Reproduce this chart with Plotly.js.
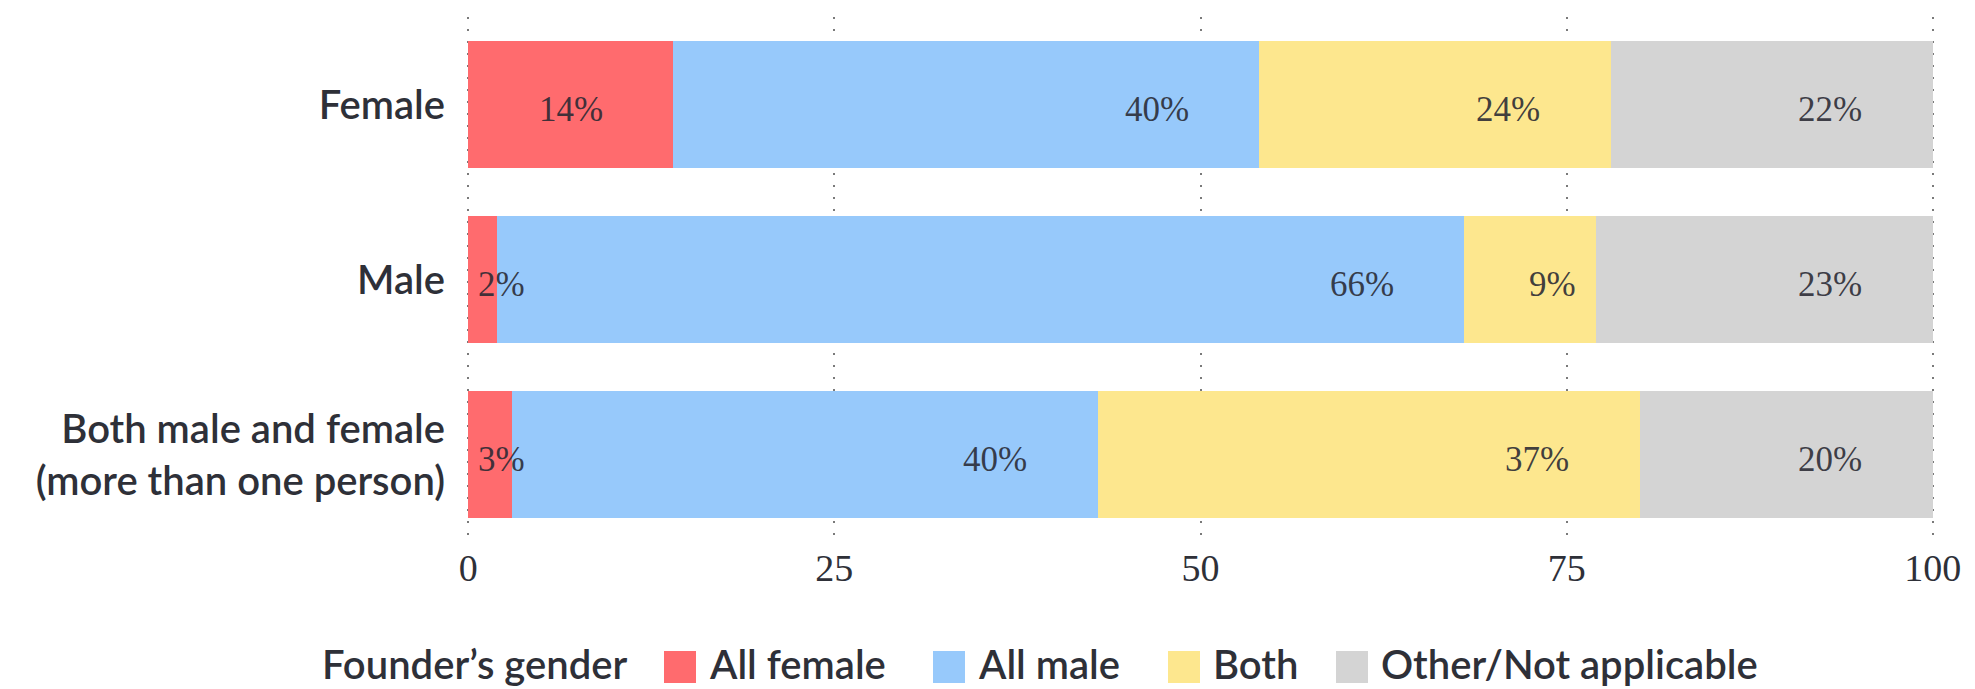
<!DOCTYPE html>
<html>
<head>
<meta charset="utf-8">
<script src="https://cdn.plot.ly/plotly-3.0.1.min.js"></script>
<style>
  html, body { margin: 0; padding: 0; background: #ffffff; }
  #chart { width: 1975px; height: 689px; }
</style>
</head>
<body>
<div id="chart"></div>
<script>
// Respondent groups (rows) and founder-gender shares (%) per row
const categories = ['Female', 'Male', 'Both male and female<br>(more than one person)'];
const seriesNames = ['All female', 'All male', 'Both', 'Other/Not applicable'];
const allFemale = [14, 2, 3];
const allMale = [40, 66, 40];
const both = [24, 9, 37];
const otherNA = [22, 23, 20];
const tickValues = [0, 25, 50, 75, 100];
const legendTitle = 'Founder\u2019s gender';

const seriesValues = [allFemale, allMale, both, otherNA];
const seriesColors = ['#ff6b6e', '#97c9fb', '#fde78e', '#d4d4d4'];

const W = 1975, H = 689;
const M = { l: 466, r: 40, t: 17, b: 147 };
const plotW = W - M.l - M.r, plotH = H - M.t - M.b;
const px2x = px => (px - M.l) / plotW;
const px2y = py => (H - M.b - py) / plotH;

const textColor = '#2e3038';
const sansFont = 'Lato, "Open Sans", sans-serif';
const serifFont = '"Liberation Serif", "DejaVu Serif", serif';

// Stacked horizontal bars
const traces = seriesValues.map((vals, i) => ({
  type: 'bar',
  orientation: 'h',
  name: seriesNames[i],
  x: vals,
  y: categories,
  marker: { color: seriesColors[i], line: { width: 0 } },
  hoverinfo: 'x+name',
  showlegend: false
}));

// Value labels, placed near the right end of each segment
const annotations = [];
categories.forEach((cat, r) => {
  let start = 0;
  seriesValues.forEach(vals => {
    const v = vals[r];
    const end = start + v;
    const lx = v >= 10 ? end - 7 : Math.max(end - v / 3, start + 2.3);
    annotations.push({
      x: lx, y: cat, xref: 'x', yref: 'y',
      text: v + '%', showarrow: false,
      xanchor: 'center', yanchor: 'middle', yshift: -5,
      font: { family: serifFont, size: 35, color: 'rgba(40,40,50,0.88)' }
    });
    start = end;
  });
});

// Legend row: title, then swatch + label per series
const legendCenterY = 664;
const swatchSize = 32;
const swatchLeft = [664, 933, 1168, 1336];
const shapes = [];
annotations.push({
  x: px2x(628), y: px2y(legendCenterY), xref: 'paper', yref: 'paper',
  text: legendTitle, showarrow: false, xanchor: 'right', yanchor: 'middle', borderpad: 0,
  font: { family: sansFont, size: 40, color: textColor, weight: 600 }
});
seriesNames.forEach((name, i) => {
  shapes.push({
    type: 'rect', xref: 'paper', yref: 'paper',
    x0: px2x(swatchLeft[i]), x1: px2x(swatchLeft[i] + swatchSize),
    y0: px2y(legendCenterY + 3 - swatchSize / 2), y1: px2y(legendCenterY + 3 + swatchSize / 2),
    fillcolor: seriesColors[i], line: { width: 0 }
  });
  annotations.push({
    x: px2x(swatchLeft[i] + swatchSize + 12), y: px2y(legendCenterY),
    xref: 'paper', yref: 'paper',
    text: name, showarrow: false, xanchor: 'left', yanchor: 'middle', borderpad: 0,
    font: { family: sansFont, size: 40, color: textColor, weight: 600 }
  });
});

const layout = {
  width: W, height: H,
  margin: M,
  paper_bgcolor: '#ffffff', plot_bgcolor: '#ffffff',
  barmode: 'stack',
  bargap: 0.27,
  showlegend: false,
  xaxis: {
    range: [-0.15, 100.15],
    tickvals: tickValues,
    ticktext: tickValues.map(String),
    showgrid: true, gridcolor: '#7a7a7a', gridwidth: 2, griddash: '2px,10px',
    zeroline: false, showline: false, ticks: '',
    tickfont: { family: serifFont, size: 38, color: textColor },
    fixedrange: true
  },
  yaxis: {
    type: 'category',
    autorange: 'reversed',
    showgrid: false, zeroline: false, showline: false, ticks: '',
    ticklabelstandoff: 20,
    tickfont: { family: sansFont, size: 40, color: textColor, weight: 600 },
    fixedrange: true
  },
  annotations: annotations,
  shapes: shapes
};

Plotly.newPlot('chart', traces, layout, { displayModeBar: false, staticPlot: true });
</script>
</body>
</html>
